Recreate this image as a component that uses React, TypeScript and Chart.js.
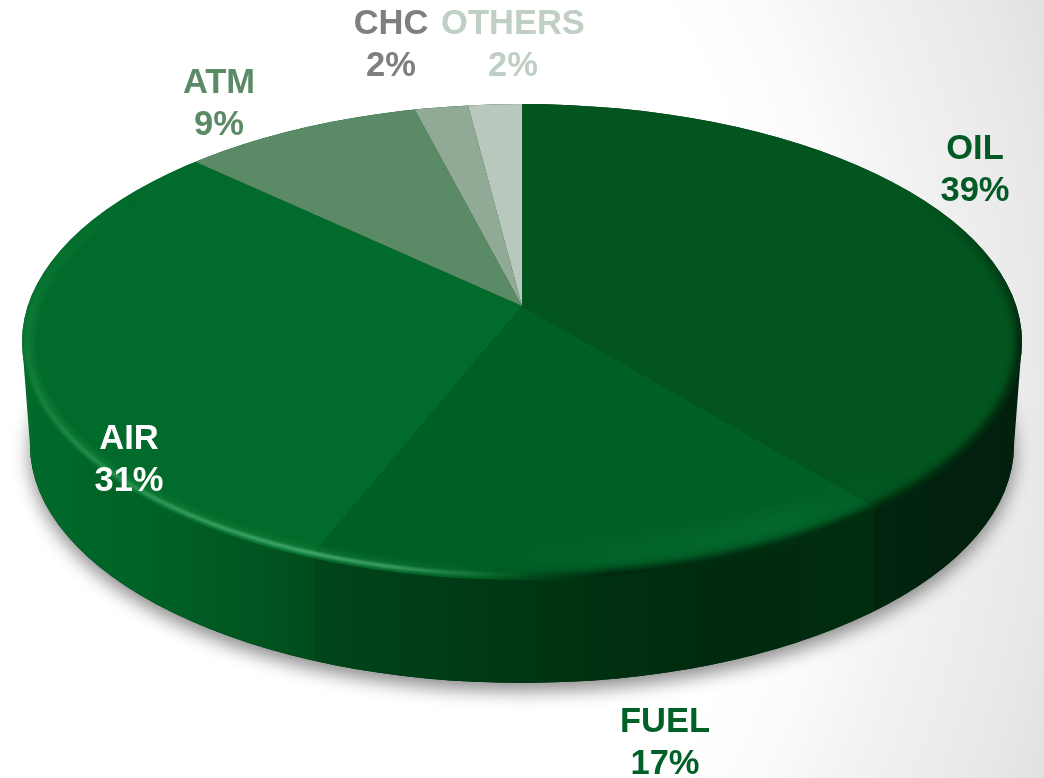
import React, { useEffect, useRef } from "react";
import { Chart, registerables } from "chart.js";

Chart.register(...registerables);

const categories = ["OIL", "FUEL", "AIR", "ATM", "CHC", "OTHERS"];
const shares = [39, 17, 31, 9, 2, 2];

const faceColors = ["#02551e", "#005f25", "#006b2a", "#5a8a66", "#91aa96", "#b8c8bc"];
const labelColors = ["#035a24", "#006128", "#ffffff", "#5a8a66", "#7f7f7f", "#c0cfc4"];
const labelPlaces = [
  [975, 147],
  [665, 720],
  [129, 437],
  [219, 81],
  [391, 22],
  [513, 22],
];

const W = 1044;
const H = 778;
// Projection of the tilted disc.
const APEX_Y = 306;
const TILT = 0.47;
const TOP = { x: 522, y: 342, rx: 500, ry: 238 };
const BOTTOM = { x: 522, y: 445, rx: 492, ry: 238 };
const SEAM_RY = 231;

const wallStops: [number, string][][] = [
  [[870, "#02240f"], [1021, "#011f0e"]],
  [[317, "#00451a"], [500, "#003814"], [713, "#002a0f"], [870, "#002c10"]],
  [[22, "#006b2a"], [180, "#005f25"], [317, "#004c1b"]],
  [[0, "#000"], [1, "#000"]],
  [[0, "#000"], [1, "#000"]],
  [[0, "#000"], [1, "#000"]],
];

function rimPoint(angle: number) {
  const dx = Math.cos(angle);
  const dy = TILT * Math.sin(angle);
  const oy = APEX_Y - TOP.y;
  const a = (dx * dx) / (TOP.rx * TOP.rx) + (dy * dy) / (SEAM_RY * SEAM_RY);
  const b = (2 * oy * dy) / (SEAM_RY * SEAM_RY);
  const c = (oy * oy) / (SEAM_RY * SEAM_RY) - 1;
  const t = (-b + Math.sqrt(b * b - 4 * a * c)) / (2 * a);
  return { x: TOP.x + t * dx, y: APEX_Y + t * dy };
}

function silhouette(ctx: CanvasRenderingContext2D) {
  ctx.beginPath();
  ctx.ellipse(TOP.x, TOP.y, TOP.rx, TOP.ry, 0, Math.PI, 2 * Math.PI);
  ctx.lineTo(BOTTOM.x + BOTTOM.rx, BOTTOM.y);
  ctx.ellipse(BOTTOM.x, BOTTOM.y, BOTTOM.rx, BOTTOM.ry, 0, 0, Math.PI);
  ctx.closePath();
}

// stroke the rim with a colour whose alpha varies round the disc
function rimGlow(
  ctx: CanvasRenderingContext2D,
  rgb: string,
  stops: [number, number][],
  width: number,
  inset: number,
  blur: number,
) {
  const g = ctx.createConicGradient(0, TOP.x, TOP.y);
  stops.forEach(([deg, alpha]) => g.addColorStop(deg / 360, `rgba(${rgb},${alpha})`));
  ctx.save();
  ctx.filter = `blur(${blur}px)`;
  ctx.beginPath();
  ctx.ellipse(TOP.x, TOP.y, TOP.rx - inset, TOP.ry - inset, 0, 0, 2 * Math.PI);
  ctx.strokeStyle = g;
  ctx.lineWidth = width;
  ctx.stroke();
  ctx.restore();
}

const pie3d = {
  id: "pie3d",
  beforeDraw(chart: any) {
    const { ctx } = chart;
    ctx.save();
    ctx.translate(250, 390);
    ctx.scale(1, 1.2);
    const R = 880;
    const bg = ctx.createRadialGradient(0, 0, 0, 0, 0, R);
    bg.addColorStop(0, "#ffffff");
    bg.addColorStop(520 / R, "#ffffff");
    bg.addColorStop(600 / R, "#fbfbfb");
    bg.addColorStop(680 / R, "#f2f2f2");
    bg.addColorStop(800 / R, "#e8e8e8");
    bg.addColorStop(1, "#dedede");
    ctx.fillStyle = bg;
    ctx.fillRect(-300, -400, W + 300, H + 100);
    ctx.restore();
  },
  beforeDatasetsDraw(chart: any) {
    const { ctx } = chart;
    const meta = chart.getDatasetMeta(0);

    // Soft cast shadow under the disc
    ctx.save();
    ctx.shadowColor = "rgba(0,0,0,0.45)";
    ctx.shadowBlur = 18;
    ctx.shadowOffsetY = 8;
    ctx.fillStyle = "#003010";
    ctx.beginPath();
    ctx.ellipse(BOTTOM.x, BOTTOM.y, BOTTOM.rx, BOTTOM.ry, 0, 0, 2 * Math.PI);
    ctx.fill();
    ctx.restore();

    // Side wall: one band per slice, its ends taken from the slice's angles
    ctx.save();
    silhouette(ctx);
    ctx.clip();
    meta.data.forEach((arc: any, i: number) => {
      let lo = Infinity;
      let hi = -Infinity;
      for (let s = 0; s <= 200; s++) {
        const a = arc.startAngle + ((arc.endAngle - arc.startAngle) * s) / 200;
        const p = rimPoint(a);
        if (p.y >= TOP.y) {
          lo = Math.min(lo, p.x);
          hi = Math.max(hi, p.x);
        }
      }
      if (lo === Infinity) return;
      if (lo < 40) lo = 0;
      if (hi > W - 40) hi = W;
      const stops = wallStops[i];
      const g = ctx.createLinearGradient(stops[0][0], 0, stops[stops.length - 1][0], 0);
      const span = stops[stops.length - 1][0] - stops[0][0];
      stops.forEach(([x, c]) => g.addColorStop((x - stops[0][0]) / span, c));
      ctx.fillStyle = g;
      ctx.fillRect(lo, 0, hi - lo, H);
    });
    ctx.restore();

    // Top face: the library's arcs, flattened and cut to the rim
    ctx.save();
    ctx.beginPath();
    ctx.ellipse(TOP.x, TOP.y, TOP.rx, TOP.ry, 0, 0, 2 * Math.PI);
    ctx.clip();
    ctx.translate(0, APEX_Y);
    ctx.scale(1, TILT);
    ctx.translate(0, -meta.data[0].y);
  },
  afterDatasetsDraw(chart: any) {
    const { ctx } = chart;
    ctx.restore();

    // Bevel on the rim
    ctx.save();
    ctx.beginPath();
    ctx.ellipse(TOP.x, TOP.y, TOP.rx, TOP.ry, 0, 0, 2 * Math.PI);
    ctx.clip();
    // broad soft lift inside the front rim of the FUEL slice
    rimGlow(ctx, "30,150,80", [[0, 0], [20, 0], [35, 0.16], [60, 0.1], [100, 0], [360, 0]], 26, 24, 7);
    // bright line on the AIR side
    rimGlow(ctx, "30,140,70", [[0, 0], [95, 0], [125, 0.3], [160, 0.35], [182, 0.35], [200, 0], [360, 0]], 12, 6, 2);
    rimGlow(ctx, "90,190,130", [[0, 0], [85, 0], [100, 0.18], [120, 0.6], [134, 0.7], [155, 0.5], [175, 0.12], [190, 0], [360, 0]], 4, 5, 1);
    // dark soft edge on the right side
    rimGlow(ctx, "0,25,8", [[0, 0.75], [70, 0.85], [88, 0.35], [100, 0], [340, 0], [352, 0.4], [360, 0.75]], 13, 0, 3.5);
    ctx.restore();

    // Labels
    ctx.save();
    ctx.font = 'bold 34.5px "Liberation Sans", Arial, sans-serif';
    ctx.textAlign = "center";
    ctx.textBaseline = "middle";
    categories.forEach((name, i) => {
      const [x, y] = labelPlaces[i];
      ctx.fillStyle = labelColors[i];
      ctx.fillText(name, x, y + 2);
      ctx.fillText(`${shares[i]}%`, x, y + 44);
    });
    ctx.restore();
  },
};

export default function App() {
  const ref = useRef<HTMLCanvasElement>(null);
  useEffect(() => {
    const canvas = ref.current!;
    const chart = new Chart(canvas, {
      type: "pie",
      data: {
        labels: categories,
        datasets: [{ data: shares, backgroundColor: faceColors, borderWidth: 0, clip: false } as any],
      },
      options: {
        responsive: false,
        animation: false,
        radius: 800,
        layout: { padding: 0 },
        plugins: { legend: { display: false }, tooltip: { enabled: false } },
      } as any,
      plugins: [pie3d as any],
    });
    return () => chart.destroy();
  }, []);
  return (
    <div style={{ position: "absolute", left: 0, top: 0, width: W, height: H, overflow: "hidden" }}>
      <canvas ref={ref} width={W} height={H} style={{ display: "block" }} />
    </div>
  );
}
